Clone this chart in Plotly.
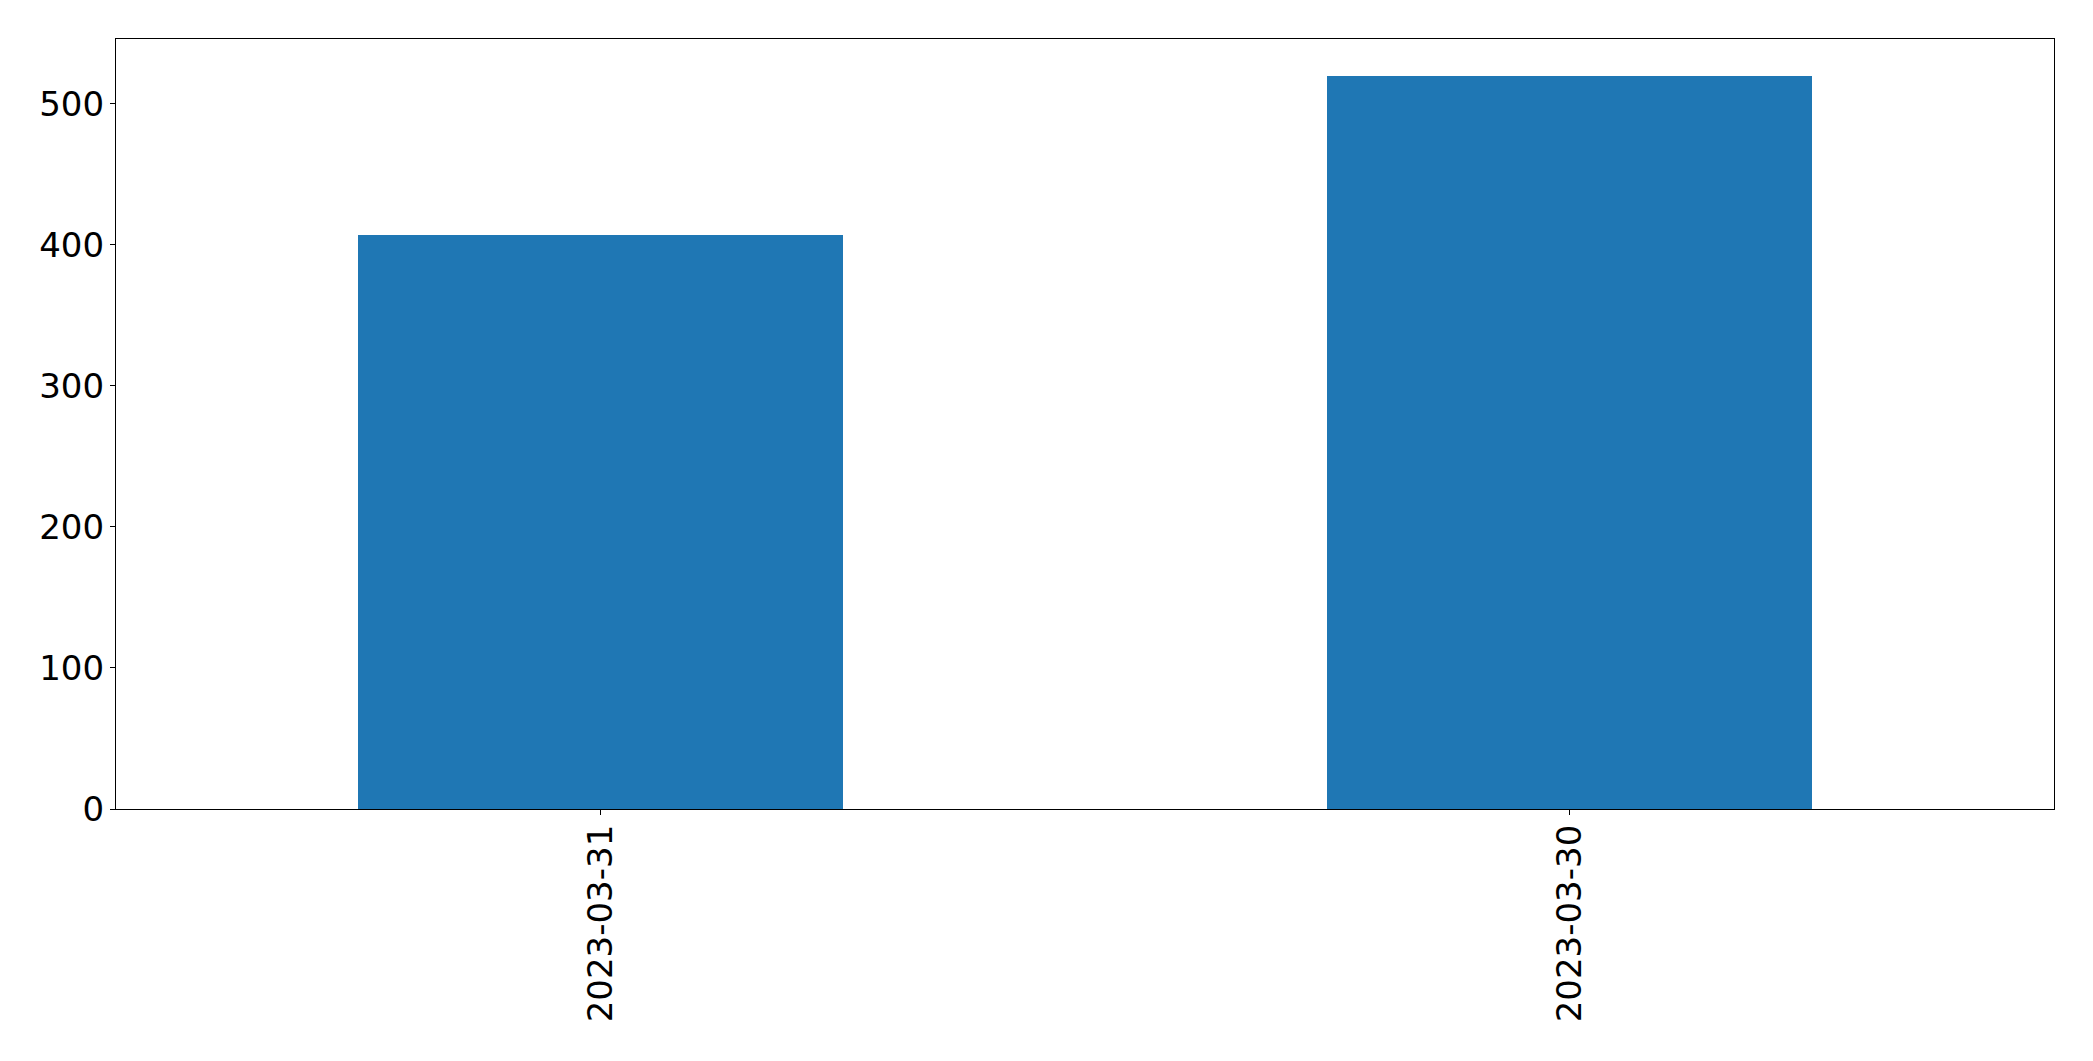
import plotly.graph_objects as go

categories = ["2023-03-31", "2023-03-30"]
values = [407, 520]
y_ticks = [0, 100, 200, 300, 400, 500]

fig = go.Figure()
fig.add_trace(go.Bar(
    x=categories, y=values, width=0.5,
    marker=dict(color="#1f77b4", line=dict(width=0)),
))

font = dict(family="DejaVu Sans", size=34, color="black")
fig.update_layout(
    width=2085, height=1053, autosize=False,
    margin=dict(l=108, r=39, t=31, b=252, pad=0),
    plot_bgcolor="white", paper_bgcolor="white",
    showlegend=False, font=font, bargap=0,
)
fig.update_xaxes(
    type="category", range=[-0.5, 1.5], tickangle=-90,
    showline=True, mirror=True, linecolor="black", linewidth=1.3,
    ticks="outside", ticklen=5, tickwidth=1.3, tickcolor="black",
    showgrid=False, zeroline=False, tickfont=font, ticklabelstandoff=-4,
)
fig.update_yaxes(
    range=[0, 546], tickvals=y_ticks, ticktext=[str(v) for v in y_ticks],
    showline=True, mirror=True, linecolor="black", linewidth=1.3,
    ticks="outside", ticklen=5, tickwidth=1.3, tickcolor="black",
    showgrid=False, zeroline=False, tickfont=font, ticklabelstandoff=-1,
)
fig.write_html("out.html")
